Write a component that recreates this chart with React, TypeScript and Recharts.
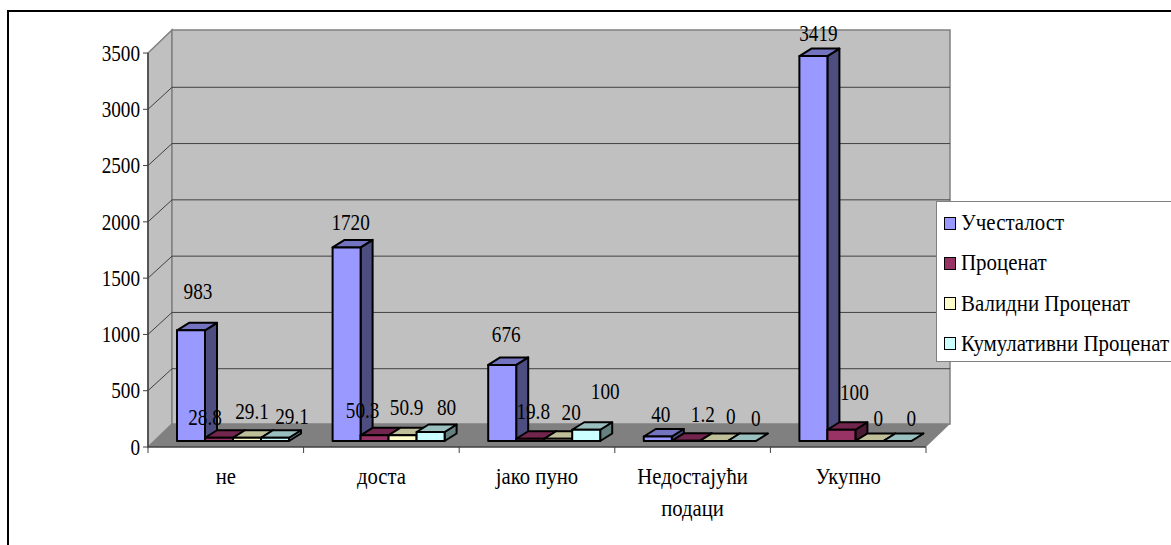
import React from 'react';
import { BarChart, Bar, XAxis, YAxis, Legend, LabelList } from 'recharts';

const categories = ['не', 'доста', 'јако пуно', 'Недостајући\nподаци', 'Укупно'];
const frequency = [983, 1720, 676, 40, 3419];
const percent = [28.8, 50.3, 19.8, 1.2, 100];
const validPercent = [29.1, 50.9, 20, 0, 0];
const cumulativePercent = [29.1, 80, 100, 0, 0];
const yTicks = [0, 500, 1000, 1500, 2000, 2500, 3000, 3500];

const data = categories.map((name, i) => ({
  name,
  frequency: frequency[i],
  percent: percent[i],
  validPercent: validPercent[i],
  cumulativePercent: cumulativePercent[i],
}));

const FONT = '"Liberation Serif", "Times New Roman", serif';
const LEFT = 148;
const RIGHT = 926;
const TOP = 53;
const BOTTOM = 447;
const WALL_DX = 24;
const WALL_DY = 23;
const GRID_DY = 22;
const BAR_DX = 8;
const BAR_DY = 6;
const DEPTH_X = 12;
const DEPTH_Y = 7.5;

// the labels were dragged by hand in the original, so each one has its own nudge
const freqNudge = [[7, -39], [4, -25], [4, -31], [3, -22], [5, -23]];
const percentNudge = [[-14, -20], [-12, -25], [3, -28], [17, -27], [13, -37]];
const validNudge = [[5, -26], [4, -28], [13, -26], [17, -25], [9, -23]];
const cumulativeNudge = [[17, -21], [16, -25], [19, -38], [14, -23], [14, -23]];

const Box3D = (props: any) => {
  const { x, y, width, height, fill, topFill, sideFill } = props;
  const left = x + BAR_DX;
  const top = y - BAR_DY;
  const right = left + width;
  const bottom = top + height;
  const stroke = { stroke: '#000', strokeWidth: 2, strokeLinejoin: 'round' as const };
  return (
    <g>
      <polygon points={`${right},${top} ${right + DEPTH_X},${top - DEPTH_Y} ${right + DEPTH_X},${bottom - DEPTH_Y} ${right},${bottom}`} fill={sideFill} {...stroke} />
      <polygon points={`${left},${top} ${left + DEPTH_X},${top - DEPTH_Y} ${right + DEPTH_X},${top - DEPTH_Y} ${right},${top}`} fill={topFill} {...stroke} />
      <rect x={left} y={top} width={width} height={height} fill={fill} {...stroke} />
    </g>
  );
};

// the original font is tall and narrow, so the text is squeezed horizontally
const Narrow = ({ x, y, sx = 0.8, size = 24, anchor = 'middle', children }: any) => (
  <text transform={`translate(${x},${y}) scale(${sx},1)`} textAnchor={anchor} dominantBaseline="central" fontFamily={FONT} fontSize={size} fill="#000">
    {children}
  </text>
);

const barLabel = (nudges: number[][]) => (props: any) => {
  const { x, y, width, value, index } = props;
  const [dx, dy] = nudges[index];
  return <Narrow x={x + BAR_DX + width / 2 + dx} y={y - BAR_DY + dy}>{value}</Narrow>;
};

const Walls = () => {
  const band = (RIGHT - LEFT) / categories.length;
  const yOf = (v: number) => BOTTOM - ((BOTTOM - TOP) * v) / 3500;
  return (
    <g>
      <polygon points={`${LEFT},${BOTTOM} ${LEFT + WALL_DX},${BOTTOM - WALL_DY} ${LEFT + WALL_DX},${TOP - WALL_DY} ${LEFT},${TOP}`} fill="#c0c0c0" stroke="#808080" strokeWidth={1.5} />
      <rect x={LEFT + WALL_DX} y={TOP - WALL_DY} width={RIGHT - LEFT} height={BOTTOM - TOP} fill="#c0c0c0" stroke="#808080" strokeWidth={1.5} />
      <polygon points={`${LEFT},${BOTTOM} ${RIGHT},${BOTTOM} ${RIGHT + WALL_DX},${BOTTOM - WALL_DY} ${LEFT + WALL_DX},${BOTTOM - WALL_DY}`} fill="#808080" />
      {yTicks.slice(1, -1).map((v) => (
        <g key={v} stroke="#404040" strokeWidth={1} fill="none">
          <line x1={LEFT} y1={yOf(v)} x2={LEFT + WALL_DX} y2={yOf(v) - GRID_DY} />
          <line x1={LEFT + WALL_DX} y1={yOf(v) - GRID_DY} x2={RIGHT + WALL_DX} y2={yOf(v) - GRID_DY} />
        </g>
      ))}
      {categories.map((_, i) => (
        <line key={i} x1={LEFT + band * (i + 1)} y1={BOTTOM} x2={LEFT + band * (i + 1)} y2={BOTTOM + 6} stroke="#404040" />
      ))}
      <line x1={LEFT} y1={BOTTOM} x2={LEFT} y2={BOTTOM + 6} stroke="#404040" />
    </g>
  );
};

const CategoryTick = (props: any) => {
  const { x, payload } = props;
  const lines = String(payload.value).split('\n');
  return (
    <g>
      {lines.map((line, i) => (
        <Narrow key={i} x={x} y={477 + i * 32} sx={0.9} size={23}>{line}</Narrow>
      ))}
    </g>
  );
};

const ValueTick = (props: any) => {
  const { x, y, payload } = props;
  return <Narrow x={x} y={y} anchor="end">{payload.value}</Narrow>;
};

const LegendBox = (props: any) => (
  <div style={{ width: 250, height: 161, boxSizing: 'border-box', background: '#fff', border: '1px solid #808080', position: 'relative' }}>
    {(props.payload || []).map((item: any, i: number) => (
      <div key={item.value} style={{ position: 'absolute', left: 7, top: 8 + i * 40.3, height: 26, display: 'flex', alignItems: 'center', whiteSpace: 'nowrap', fontFamily: FONT, fontSize: 23, color: '#000' }}>
        <span style={{ flex: 'none', width: 10, height: 11, marginRight: 5, background: item.color, border: '1.5px solid #000' }} />
        <span style={{ display: 'inline-block', transform: 'scaleX(0.91)', transformOrigin: 'left center' }}>{item.value}</span>
      </div>
    ))}
  </div>
);

export default function App() {
  return (
    <div style={{ position: 'absolute', left: 0, top: 0, width: 1171, height: 545, overflow: 'hidden', background: '#fff' }}>
      <div style={{ position: 'absolute', left: 7, top: 10, width: 1300, height: 700, border: '2px solid #000', boxSizing: 'border-box' }} />
      <BarChart
        width={1171}
        height={545}
        data={data}
        margin={{ top: TOP, right: 1171 - RIGHT, left: LEFT - 60, bottom: 0 }}
        barCategoryGap={21}
        barGap={0}
      >
        <Walls />
        <XAxis dataKey="name" height={545 - BOTTOM} tick={<CategoryTick />} tickLine={false} axisLine={{ stroke: '#404040', strokeWidth: 1.5 }} interval={0} />
        <YAxis width={60} domain={[0, 3500]} ticks={yTicks} interval={0} tickSize={5} tickMargin={3} axisLine={{ stroke: '#404040', strokeWidth: 1.5 }} tickLine={{ stroke: '#404040' }} tick={<ValueTick />} />
        <Legend layout="vertical" align="center" verticalAlign="middle" itemSorter={null as any} wrapperStyle={{ left: 936, top: 201, width: 250, height: 161 }} content={<LegendBox />} />
        <Bar dataKey="frequency" name="Учесталост" fill="#9999ff" isAnimationActive={false} shape={<Box3D topFill="#7373bf" sideFill="#4d4d80" />}>
          <LabelList dataKey="frequency" content={barLabel(freqNudge)} />
        </Bar>
        <Bar dataKey="percent" name="Проценат" fill="#993366" isAnimationActive={false} shape={<Box3D topFill="#73264d" sideFill="#4d1a33" />}>
          <LabelList dataKey="percent" content={barLabel(percentNudge)} />
        </Bar>
        <Bar dataKey="validPercent" name="Валидни Проценат" fill="#ffffcc" isAnimationActive={false} shape={<Box3D topFill="#bfbf99" sideFill="#808066" />}>
          <LabelList dataKey="validPercent" content={barLabel(validNudge)} />
        </Bar>
        <Bar dataKey="cumulativePercent" name="Кумулативни Проценат" fill="#ccffff" isAnimationActive={false} shape={<Box3D topFill="#99bfbf" sideFill="#668080" />}>
          <LabelList dataKey="cumulativePercent" content={barLabel(cumulativeNudge)} />
        </Bar>
      </BarChart>
    </div>
  );
}
